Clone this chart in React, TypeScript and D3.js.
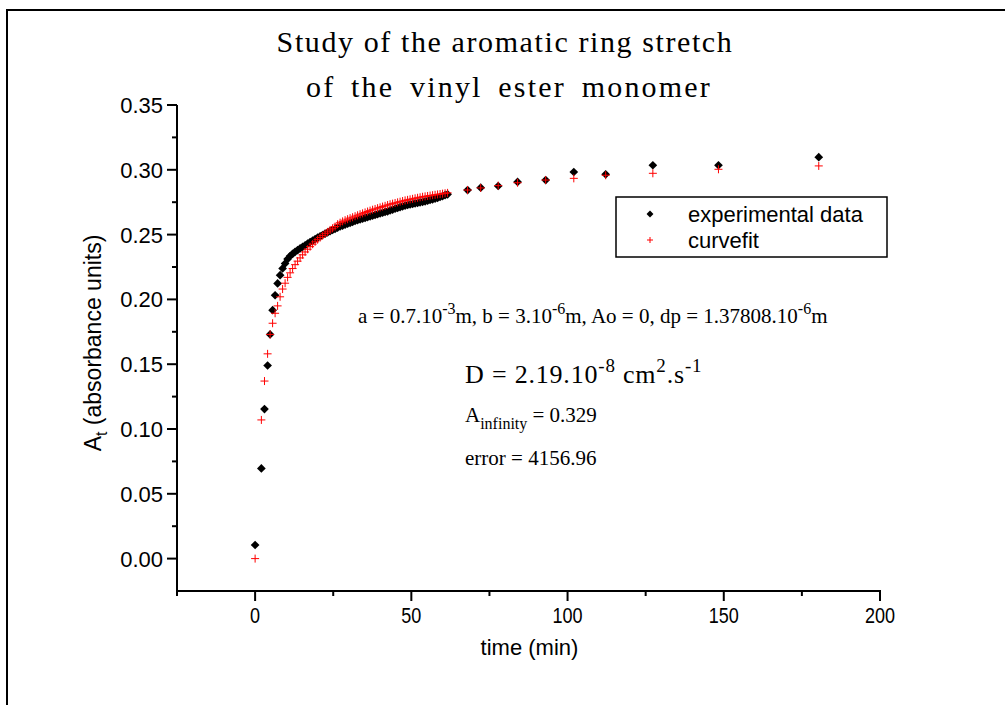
import React from "react";
import * as d3 from "d3";

// ---- data ----
const expTime = [0, 2, 3, 4, 4.8, 5.6, 6.4, 7.2, 8.0, 8.8, 9.6, 10.4, 11.2, 12.0, 12.8, 13.6, 14.4, 15.2, 16.0, 16.8, 17.6, 18.4, 19.2, 20.0, 20.8, 21.6, 22.4, 23.2, 24.0, 24.8, 25.6, 26.4, 27.2, 28.0, 28.8, 29.6, 30.4, 31.2, 32.0, 32.8, 33.6, 34.4, 35.2, 36.0, 36.8, 37.6, 38.4, 39.2, 40.0, 40.8, 41.6, 42.4, 43.2, 44.0, 44.8, 45.6, 46.4, 47.2, 48.0, 48.8, 49.6, 50.4, 51.2, 52.0, 52.8, 53.6, 54.4, 55.2, 56.0, 56.8, 57.6, 58.4, 59.2, 60.0, 60.8, 61.6, 68, 72.2, 77.8, 84, 93, 102, 112.2, 127.3, 148.3, 180.4];

const expValues = [0.0105, 0.0696, 0.1154, 0.149, 0.173, 0.1917, 0.2032, 0.2123, 0.2187, 0.2239, 0.2277, 0.2311, 0.2335, 0.2352, 0.2367, 0.2380, 0.2393, 0.2405, 0.2417, 0.2430, 0.2442, 0.2453, 0.2465, 0.2476, 0.2487, 0.2497, 0.2507, 0.2517, 0.2527, 0.2536, 0.2545, 0.2554, 0.2563, 0.2570, 0.2577, 0.2584, 0.2591, 0.2598, 0.2606, 0.2612, 0.2618, 0.2624, 0.2629, 0.2635, 0.2641, 0.2647, 0.2652, 0.2658, 0.2664, 0.2669, 0.2675, 0.2680, 0.2687, 0.2693, 0.2700, 0.2706, 0.2712, 0.2718, 0.2724, 0.2729, 0.2733, 0.2737, 0.2741, 0.2745, 0.2749, 0.2753, 0.2757, 0.2762, 0.2767, 0.2772, 0.2778, 0.2784, 0.2790, 0.2797, 0.2804, 0.2811, 0.2844, 0.2862, 0.2875, 0.2906, 0.2921, 0.2983, 0.2965, 0.3035, 0.3035, 0.3097];

const fitValues = [0.0, 0.107, 0.137, 0.158, 0.1730, 0.1816, 0.1893, 0.1950, 0.2020, 0.2080, 0.2125, 0.2170, 0.2205, 0.2238, 0.2268, 0.2295, 0.2320, 0.2344, 0.2366, 0.2387, 0.2407, 0.2426, 0.2444, 0.2461, 0.2477, 0.2492, 0.2507, 0.2521, 0.2536, 0.2549, 0.2562, 0.2580, 0.2592, 0.2602, 0.2611, 0.2619, 0.2627, 0.2634, 0.2642, 0.2649, 0.2657, 0.2664, 0.2671, 0.2678, 0.2685, 0.2692, 0.2698, 0.2704, 0.2710, 0.2716, 0.2722, 0.2728, 0.2734, 0.2739, 0.2744, 0.2749, 0.2754, 0.2759, 0.2764, 0.2768, 0.2772, 0.2776, 0.2780, 0.2784, 0.2788, 0.2792, 0.2795, 0.2798, 0.2801, 0.2804, 0.2807, 0.2810, 0.2813, 0.2816, 0.2819, 0.2822, 0.2844, 0.2860, 0.2878, 0.2900, 0.2921, 0.2934, 0.2958, 0.2973, 0.3004, 0.3030];

const yMajorTicks = [0, 0.05, 0.1, 0.15, 0.2, 0.25, 0.3, 0.35];
const yMinorTicks = [0.025, 0.075, 0.125, 0.175, 0.225, 0.275, 0.325];
const xMajorTicks = [0, 50, 100, 150, 200];
const xMinorTicks = [-25, 25, 75, 125, 175];

const seriesNames = ["experimental data", "curvefit"];

export default function App() {
  const x = d3.scaleLinear().domain([-25, 200]).range([177, 880]);
  const y = d3.scaleLinear().domain([-0.025, 0.35]).range([591, 105]);

  const diamond = d3.symbol().type(d3.symbolSquare).size(38)();
  const diamondSmall = d3.symbol().type(d3.symbolSquare).size(24)();
  const plus = "M-4,0H4M0,-4V4";
  const plusSmall = "M-3,0H3M0,-3V3";

  const sans = "'Liberation Sans', Arial, sans-serif";
  const serif = "'Liberation Serif', 'Times New Roman', serif";

  return (
    <svg width={1005} height={705} style={{ position: "absolute", left: 0, top: 0, background: "#fff" }}>
      {/* outer frame */}
      <rect x={7} y={10} width={1010} height={710} fill="none" stroke="#000" strokeWidth={2} />

      {/* title */}
      <text x={505} y={52} textAnchor="middle" fontFamily={serif} fontSize={30} letterSpacing={1.6}>
        Study of the aromatic ring stretch
      </text>
      <text x={509} y={97} textAnchor="middle" fontFamily={serif} fontSize={30} letterSpacing={2.2} wordSpacing={6}>
        of the vinyl ester monomer
      </text>

      {/* axes */}
      <g stroke="#000" strokeWidth={2} fill="none">
        <line x1={x(-25)} x2={x(-25)} y1={y(0.35)} y2={y(-0.025)} />
        <line x1={x(-25) - 1} x2={x(200) + 1} y1={y(-0.025)} y2={y(-0.025)} />
        {yMajorTicks.map((t) => (
          <line key={"ym" + t} x1={x(-25) - 10} x2={x(-25)} y1={y(t)} y2={y(t)} />
        ))}
        {yMinorTicks.map((t) => (
          <line key={"yn" + t} x1={x(-25) - 5} x2={x(-25)} y1={y(t)} y2={y(t)} />
        ))}
        {xMajorTicks.map((t) => (
          <line key={"xm" + t} x1={x(t)} x2={x(t)} y1={y(-0.025)} y2={y(-0.025) + 10} />
        ))}
        {xMinorTicks.map((t) => (
          <line key={"xn" + t} x1={x(t)} x2={x(t)} y1={y(-0.025)} y2={y(-0.025) + 5} />
        ))}
      </g>
      <g fontFamily={sans} fontSize={22} fill="#000">
        {yMajorTicks.map((t) => (
          <text key={"yl" + t} x={x(-25) - 14} y={y(t)} dy="0.36em" textAnchor="end">
            {d3.format(".2f")(t)}
          </text>
        ))}
        {xMajorTicks.map((t) => (
          <text key={"xl" + t} transform={`translate(${x(t)},${y(-0.025) + 32}) scale(0.82,1)`} textAnchor="middle">
            {t}
          </text>
        ))}
        <text x={(x(-25) + x(200)) / 2 + 1} y={655} textAnchor="middle">time (min)</text>
        <text transform={`translate(101, 343) rotate(-90)`} textAnchor="middle" fontSize={23}>
          A<tspan fontSize={16} dy={6}>t</tspan>
          <tspan dy={-6}> (absorbance units)</tspan>
        </text>
      </g>

      {/* data */}
      <g>
        {expTime.map((t, i) => (
          <path key={"e" + i} d={diamond} transform={`translate(${x(t)},${y(expValues[i])}) rotate(45)`} fill="#000" />
        ))}
        {expTime.map((t, i) => (
          <path key={"f" + i} d={plus} transform={`translate(${x(t)},${y(fitValues[i])})`} stroke="#ff0000" strokeWidth={1} fill="none" />
        ))}
      </g>

      {/* legend */}
      <rect x={616} y={197} width={271} height={60} fill="#fff" stroke="#000" strokeWidth={1.5} />
      <path d={diamondSmall} transform="translate(650,214) rotate(45)" fill="#000" />
      <path d={plusSmall} transform="translate(650,240)" stroke="#ff0000" strokeWidth={1} fill="none" />
      <g fontFamily={sans} fontSize={22} fill="#000">
        <text x={688} y={222}>{seriesNames[0]}</text>
        <text x={688} y={248}>{seriesNames[1]}</text>
      </g>

      {/* annotations */}
      <g fontFamily={serif} fill="#000">
        <text x={358} y={323} fontSize={21}>
          a = 0.7.10<tspan dy={-9} fontSize={16}>-3</tspan>
          <tspan dy={9}>m, b = 3.10</tspan>
          <tspan dy={-9} fontSize={16}>-6</tspan>
          <tspan dy={9}>m, Ao = 0, dp = 1.37808.10</tspan>
          <tspan dy={-9} fontSize={16}>-6</tspan>
          <tspan dy={9}>m</tspan>
        </text>
        <text x={465} y={383} fontSize={26} letterSpacing={0.8}>
          D = 2.19.10<tspan dy={-11} fontSize={19}>-8</tspan>
          <tspan dy={11}> cm</tspan>
          <tspan dy={-11} fontSize={19}>2</tspan>
          <tspan dy={11}>.s</tspan>
          <tspan dy={-11} fontSize={19}>-1</tspan>
        </text>
        <text x={465} y={422} fontSize={21}>
          A<tspan dy={7} fontSize={16}>infinity</tspan>
          <tspan dy={-7}> = 0.329</tspan>
        </text>
        <text x={465} y={465} fontSize={21}>error = 4156.96</text>
      </g>
    </svg>
  );
}
